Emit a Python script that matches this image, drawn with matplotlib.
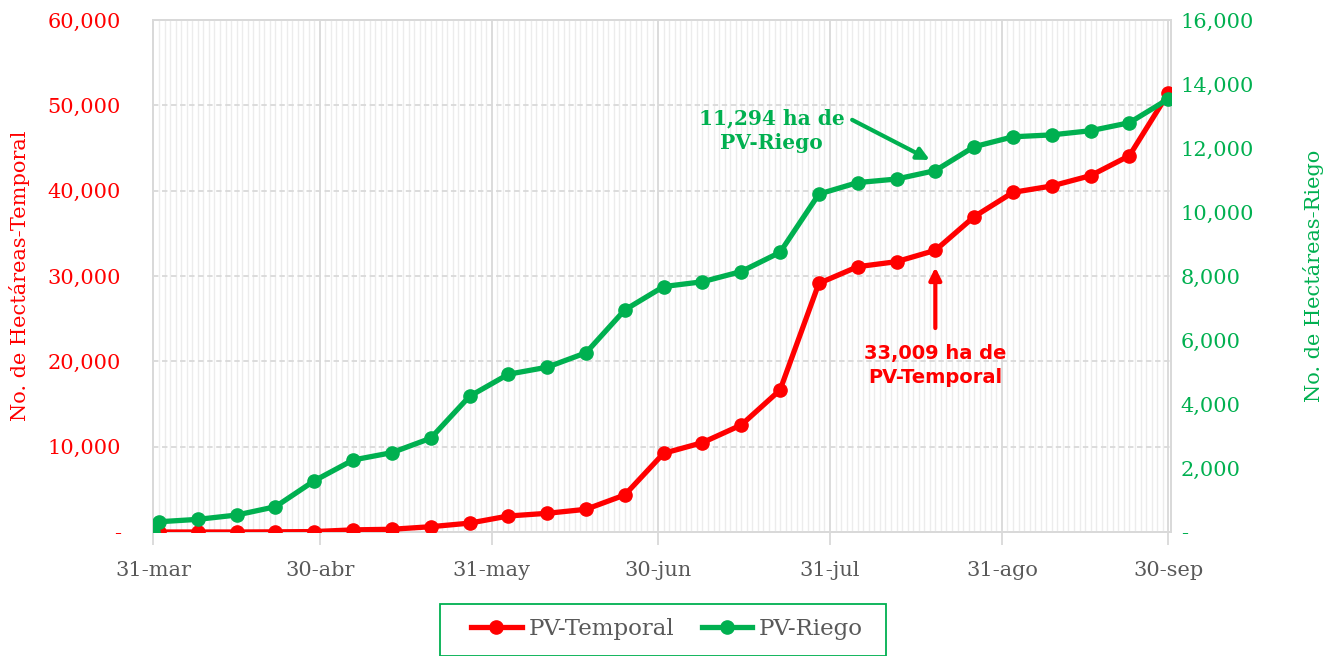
import matplotlib
matplotlib.use("Agg")
import matplotlib.pyplot as plt
import matplotlib.dates as mdates
from matplotlib.ticker import FuncFormatter, MultipleLocator
from matplotlib.patches import Rectangle
import numpy as np
import pandas as pd

# ---- data ----
fechas = ["2020-03-31", "2020-04-01", "2020-04-08", "2020-04-15", "2020-04-22", "2020-04-29",
          "2020-05-06", "2020-05-13", "2020-05-20", "2020-05-27", "2020-06-03", "2020-06-10",
          "2020-06-17", "2020-06-24", "2020-07-01", "2020-07-08", "2020-07-15", "2020-07-22",
          "2020-07-29", "2020-08-05", "2020-08-12", "2020-08-19", "2020-08-26", "2020-09-02",
          "2020-09-09", "2020-09-16", "2020-09-23", "2020-09-30"]
pv_temporal = [0, 0, 0, 0, 20, 50, 250, 320, 620, 1040, 1875, 2190, 2660, 4340, 9220,
               10470, 12540, 16640, 29140, 31090, 31680, 33009, 36950, 39800, 40550,
               41760, 44100, 51410]
pv_riego = [0, 320, 395, 530, 790, 1600, 2250, 2480, 2930, 4240, 4930, 5150, 5600, 6940,
            7670, 7820, 8140, 8740, 10560, 10920, 11030, 11294, 12040, 12350, 12410,
            12540, 12790, 13530]
tick_fechas = ["2020-03-31", "2020-04-30", "2020-05-31", "2020-06-30", "2020-07-31",
               "2020-08-31", "2020-09-30"]
tick_labels = ["31-mar", "30-abr", "31-may", "30-jun", "31-jul", "31-ago", "30-sep"]
serie_nombres = ["PV-Temporal", "PV-Riego"]

RED = "#FF0000"
GREEN = "#00B050"
GRAY = "#595959"
SERIF = ["DejaVu Serif"]

x = pd.to_datetime(fechas)
xt = pd.to_datetime(tick_fechas)
RATIO = 60000 / 16000

W, H = 1338, 656
fig = plt.figure(figsize=(W/100, H/100), dpi=100)
ax = fig.add_axes([153/W, 1-532/H, (1171-153)/W, (532-20)/H])
ax2 = ax.twinx()

ax.set_zorder(ax2.get_zorder()+1)
ax.patch.set_visible(False)

# grids
ax.xaxis.set_minor_locator(mdates.DayLocator())
ax.grid(which="minor", axis="x", color="#ECECEC", linewidth=1.0)
ax.set_xticks(xt)
ax.set_xticklabels(tick_labels)
ax.grid(which="major", axis="x", color="#D9D9D9", linewidth=1.3)
ax.grid(which="major", axis="y", color="#D9D9D9", linewidth=1.3, linestyle=(0, (3, 2)))
ax.set_axisbelow(True)

ax.set_xlim(xt[0] - pd.Timedelta(hours=2), xt[-1] + pd.Timedelta(hours=12))
ax.set_ylim(0, 60000)
ax2.set_ylim(0, 16000)
ax.yaxis.set_major_locator(MultipleLocator(10000))
ax2.yaxis.set_major_locator(MultipleLocator(2000))

fmt = FuncFormatter(lambda v, p: "-" if v == 0 else f"{v:,.0f}")
ax.yaxis.set_major_formatter(fmt)
ax2.yaxis.set_major_formatter(fmt)

l1, = ax.plot(x, pv_temporal, color=RED, lw=3.8, marker="o", markersize=9.5,
              label=serie_nombres[0], zorder=3)
l2, = ax.plot(x, np.array(pv_riego) * RATIO, color=GREEN, lw=3.8, marker="o",
              markersize=9.5, label=serie_nombres[1], zorder=4)

for a in (ax, ax2):
    for s in a.spines.values():
        s.set_color("#D9D9D9")
        s.set_linewidth(1.3)

ax.tick_params(axis="y", which="both", length=0, labelcolor=RED, labelsize=15, pad=23)
ax2.tick_params(axis="y", which="both", length=0, labelcolor=GREEN, labelsize=15, pad=7)
ax.tick_params(axis="x", which="major", length=9, color="#D9D9D9", width=1.3,
               labelcolor=GRAY, labelsize=15, pad=12)
ax.tick_params(axis="x", which="minor", length=0)
for lab in ax.get_yticklabels() + ax2.get_yticklabels() + ax.get_xticklabels():
    lab.set_family(SERIF)

ax.set_ylabel("No. de Hectáreas-Temporal", color=RED, fontsize=15, family=SERIF)
ax2.set_ylabel("No. de Hectáreas-Riego", color=GREEN, fontsize=15, family=SERIF)
ax.yaxis.set_label_coords(-0.1208, 0.5)
ax2.yaxis.set_label_coords(1.1297, 0.5)

# annotations
i = 21
day = pd.Timedelta(days=1)
ax.text(x[i] - 29.5 * day, 47000, "11,294 ha de\nPV-Riego", ha="center", va="center",
        color=GREEN, fontsize=14.5, fontweight="bold", family=SERIF, linespacing=1.3)
ax.annotate("", xy=(x[i] - 1 * day, pv_riego[i] * RATIO + 1250),
            xytext=(x[i] - 15 * day, 48300),
            arrowprops=dict(arrowstyle="-|>", color=GREEN, lw=3, mutation_scale=18,
                            shrinkA=0, shrinkB=0))
ax.text(x[i], 19500, "33,009 ha de\nPV-Temporal", ha="center", va="center",
        color=RED, fontsize=14, fontweight="bold", family=["DejaVu Sans"], linespacing=1.35)
ax.annotate("", xy=(x[i], pv_temporal[i] - 2000), xytext=(x[i], 23900),
            arrowprops=dict(arrowstyle="-|>", color=RED, lw=3, mutation_scale=18,
                            shrinkA=0, shrinkB=0))

# legend (frame drawn separately to match the reference box)
leg = fig.legend(handles=[l1, l2], labels=serie_nombres, loc="center",
                 bbox_to_anchor=(667/W, 1-629/H), ncol=2, frameon=False,
                 prop=dict(family=SERIF, size=16.5), handlelength=2.2, columnspacing=1.2,
                 borderpad=0, handletextpad=0.3, borderaxespad=0)
for t in leg.get_texts():
    t.set_color(GRAY)
fig.patches.append(Rectangle((440/W, 0), (886-440)/W, 1-604/H, transform=fig.transFigure,
                             fill=False, edgecolor=GREEN, linewidth=1.3))

fig.savefig("out.png", dpi=100)
